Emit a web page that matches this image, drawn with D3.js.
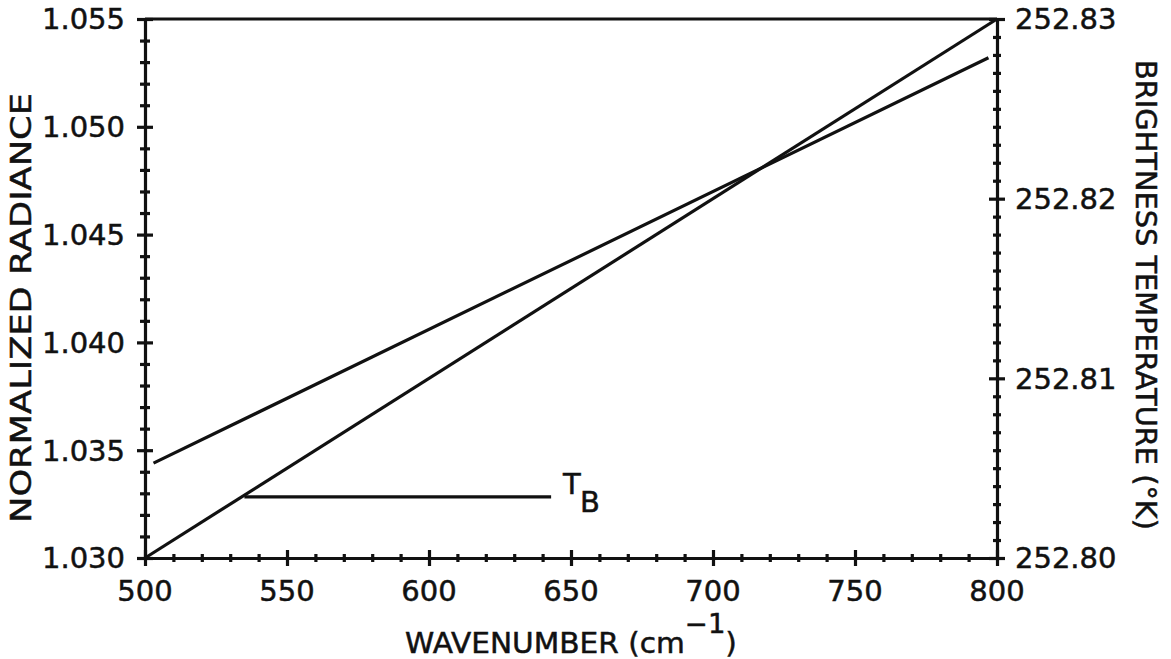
<!DOCTYPE html>
<html>
<head>
<meta charset="utf-8">
<script src="https://cdn.jsdelivr.net/npm/d3@7"></script>
<style>
  html, body { margin: 0; padding: 0; background: #fff; }
  svg { display: block; }
  text { font-family: "DejaVu Sans", sans-serif; fill: #111; stroke: #111; stroke-width: 0.5px; }
</style>
</head>
<body>
<script>
// Wavenumber range and tick labels
const xMajorTicks = [500, 550, 600, 650, 700, 750, 800];
const xTickLabels = ["500", "550", "600", "650", "700", "750", "800"];

// Normalized radiance axis (left)
const radianceTicks = [1.030, 1.035, 1.040, 1.045, 1.050, 1.055];
const radianceTickLabels = ["1.030", "1.035", "1.040", "1.045", "1.050", "1.055"];

// Brightness temperature axis (right)
const tempTicks = [252.80, 252.81, 252.82, 252.83];
const tempTickLabels = ["252.80", "252.81", "252.82", "252.83"];

// Normalized radiance vs wavenumber
const radianceWavenumber = [503, 797];
const radianceValues = [1.0344, 1.0532];

// Brightness temperature vs wavenumber
const tempWavenumber = [500, 800];
const tempValues = [252.800, 252.830];

// T_B annotation leader
const leaderWavenumber = [535, 643];
const leaderTemp = [252.8034, 252.8034];

const W = 1171, H = 659;
const plotLeft = 145, plotRight = 997, plotTop = 19, plotBottom = 558;
const ink = "#111";
const sw = 3.2;

const svg = d3.select("body").append("svg").attr("width", W).attr("height", H);

const x = d3.scaleLinear().domain([500, 800]).range([plotLeft, plotRight]);
const yL = d3.scaleLinear().domain([1.030, 1.055]).range([plotBottom, plotTop]);
const yR = d3.scaleLinear().domain([252.80, 252.83]).range([plotBottom, plotTop]);

const near = (arr, v) => arr.some(t => Math.abs(t - v) < 1e-9);
const xMinor = x.ticks(30).filter(v => !near(xMajorTicks, v));
const yLMinor = yL.ticks(25).filter(v => !near(radianceTicks, v));
const yRMinor = yR.ticks(30).filter(v => !near(tempTicks, v));

function styleAxis(g) {
  g.selectAll("path.domain").attr("stroke", ink).attr("stroke-width", sw);
  g.selectAll(".tick line").attr("stroke", ink).attr("stroke-width", sw);
  g.selectAll(".tick text").remove();
}

// Bottom axis: minor then major ticks crossing the axis line
const gxMinor = svg.append("g").attr("transform", `translate(0,${plotBottom})`)
  .call(d3.axisBottom(x).tickValues(xMinor).tickSizeOuter(0).tickSizeInner(0));
styleAxis(gxMinor);
gxMinor.selectAll(".tick line").attr("y1", -4).attr("y2", 4);

const gxMajor = svg.append("g").attr("transform", `translate(0,${plotBottom})`)
  .call(d3.axisBottom(x).tickValues(xMajorTicks).tickSizeOuter(0).tickSizeInner(0));
styleAxis(gxMajor);
gxMajor.select("path.domain").remove();
gxMajor.selectAll(".tick line").attr("y1", -8).attr("y2", 8);

// Left axis
const gyLMinor = svg.append("g").attr("transform", `translate(${plotLeft},0)`)
  .call(d3.axisLeft(yL).tickValues(yLMinor).tickSizeOuter(0).tickSizeInner(0));
styleAxis(gyLMinor);
gyLMinor.selectAll(".tick line").attr("x1", -5).attr("x2", 5);

const gyLMajor = svg.append("g").attr("transform", `translate(${plotLeft},0)`)
  .call(d3.axisLeft(yL).tickValues(radianceTicks).tickSizeOuter(0).tickSizeInner(0));
styleAxis(gyLMajor);
gyLMajor.select("path.domain").remove();
gyLMajor.selectAll(".tick line").attr("x1", -8).attr("x2", 8);

// Right axis
const gyRMinor = svg.append("g").attr("transform", `translate(${plotRight},0)`)
  .call(d3.axisRight(yR).tickValues(yRMinor).tickSizeOuter(0).tickSizeInner(0));
styleAxis(gyRMinor);
gyRMinor.selectAll(".tick line").attr("x1", -4).attr("x2", 4);

const gyRMajor = svg.append("g").attr("transform", `translate(${plotRight},0)`)
  .call(d3.axisRight(yR).tickValues(tempTicks).tickSizeOuter(0).tickSizeInner(0));
styleAxis(gyRMajor);
gyRMajor.select("path.domain").remove();
gyRMajor.selectAll(".tick line").attr("x1", -8).attr("x2", 8);

// Top frame line
svg.append("line")
  .attr("x1", x(500)).attr("x2", x(800))
  .attr("y1", yL(1.055)).attr("y2", yL(1.055))
  .attr("stroke", ink).attr("stroke-width", sw);

// Tick labels
const fs = 29;
svg.append("g").selectAll("text").data(xMajorTicks).join("text")
  .attr("x", d => x(d)).attr("y", plotBottom + 43)
  .attr("text-anchor", "middle").attr("font-size", fs)
  .text((d, i) => xTickLabels[i]);

svg.append("g").selectAll("text").data(radianceTicks).join("text")
  .attr("x", plotLeft - 20).attr("y", d => yL(d)).attr("dy", "0.36em")
  .attr("text-anchor", "end").attr("font-size", fs)
  .text((d, i) => radianceTickLabels[i]);

svg.append("g").selectAll("text").data(tempTicks).join("text")
  .attr("x", plotRight + 18).attr("y", d => yR(d)).attr("dy", "0.36em")
  .attr("text-anchor", "start").attr("font-size", fs)
  .text((d, i) => tempTickLabels[i]);

// Data lines
const lineL = d3.line().x(d => x(d[0])).y(d => yL(d[1]));
const lineR = d3.line().x(d => x(d[0])).y(d => yR(d[1]));

svg.append("path")
  .datum(radianceWavenumber.map((w, i) => [w, radianceValues[i]]))
  .attr("d", lineL).attr("fill", "none").attr("stroke", ink).attr("stroke-width", sw);

svg.append("path")
  .datum(tempWavenumber.map((w, i) => [w, tempValues[i]]))
  .attr("d", lineR).attr("fill", "none").attr("stroke", ink).attr("stroke-width", sw);

svg.append("path")
  .datum(leaderWavenumber.map((w, i) => [w, leaderTemp[i]]))
  .attr("d", lineR).attr("fill", "none").attr("stroke", ink).attr("stroke-width", sw);

// T_B annotation
const ax = x(leaderWavenumber[1]), ay = yR(leaderTemp[1]);
const tb = svg.append("text").attr("font-size", fs);
tb.append("tspan").attr("x", ax + 12).attr("y", ay - 3).text("T");
tb.append("tspan").attr("x", ax + 29).attr("y", ay + 15).text("B");

// Axis titles, stretched to the wide plotter lettering
function title(cx, cy, rot, targetW, build) {
  const g = svg.append("g");
  const t = g.append("text").attr("font-size", 28).attr("text-anchor", "middle");
  build(t);
  const w = t.node().getBBox().width;
  g.attr("transform", `translate(${cx},${cy}) rotate(${rot}) scale(${targetW / w},1)`);
  return g;
}

title(571, 653, 0, 332, t => {
  t.append("tspan").text("WAVENUMBER (cm");
  t.append("tspan").attr("font-size", 26).attr("dy", -20).text("\u22121");
  t.append("tspan").attr("dy", 20).text(")");
});

title(31, 308, -90, 430, t => t.text("NORMALIZED RADIANCE"));

title(1136, 295, 90, 470, t => t.text("BRIGHTNESS TEMPERATURE (\u00B0K)"));
</script>
</body>
</html>
